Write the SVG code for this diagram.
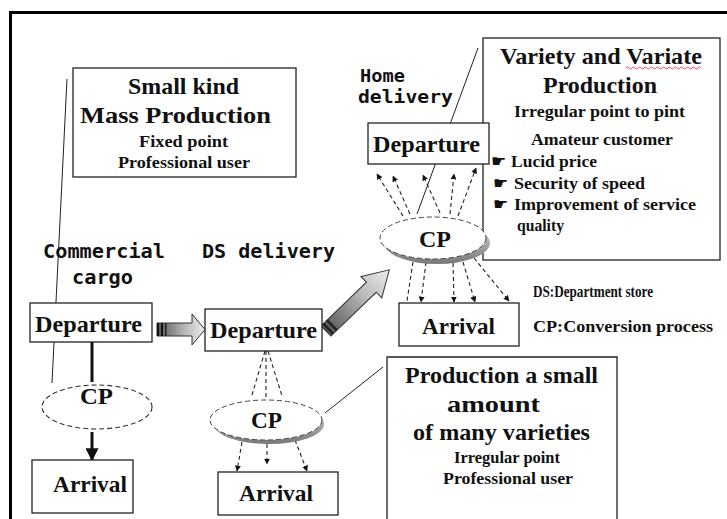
<svg xmlns="http://www.w3.org/2000/svg" width="727" height="519" viewBox="0 0 727 519">
  <defs>
    <style>
      .box { fill: #fff; stroke: #222; stroke-width: 1.3; }
      .t { font-family: "Liberation Serif", "Times New Roman", serif; font-weight: bold; fill: #111; }
      .big { font-size: 23px; }
      .mid { font-size: 24px; }
      .sm { font-size: 16.5px; }
      .goth { font-family: "DejaVu Sans Mono", "Liberation Mono", monospace; font-weight: bold; font-size: 20px; fill: #111; }
      .goth2 { font-family: "DejaVu Sans Mono", "Liberation Mono", monospace; font-weight: bold; font-size: 17px; fill: #111; }
      .hand { font-family: "DejaVu Sans", sans-serif; font-size: 17px; fill: #111; }
      .dash { fill: none; stroke: #222; stroke-width: 1.1; stroke-dasharray: 4 3; }
      .lead { fill: none; stroke: #222; stroke-width: 1; }
    </style>
    <marker id="tri" viewBox="0 0 10 10" refX="9" refY="5" markerWidth="6" markerHeight="6" orient="auto" markerUnits="userSpaceOnUse">
      <path d="M0,0 L10,5 L0,10 z" fill="#111"/>
    </marker>
    <marker id="bigtri" viewBox="0 0 10 10" refX="9" refY="5" markerWidth="13" markerHeight="13" orient="auto" markerUnits="userSpaceOnUse">
      <path d="M0,0 L10,5 L0,10 z" fill="#111"/>
    </marker>
    <linearGradient id="shaft" x1="0" y1="0" x2="1" y2="0">
      <stop offset="0" stop-color="#555"/>
      <stop offset="0.6" stop-color="#bbb"/>
      <stop offset="1" stop-color="#ececec"/>
    </linearGradient>
    <linearGradient id="shade" x1="0" y1="0" x2="0" y2="1">
      <stop offset="0" stop-color="#ddd"/>
      <stop offset="1" stop-color="#777"/>
    </linearGradient>
  </defs>

  <rect width="727" height="519" fill="#fff"/>
  <!-- outer frame -->
  <path d="M10.5,519 V12.5 H727" fill="none" stroke="#000" stroke-width="3"/>

  <!-- connectors -->
  <g id="connectors">
    <!-- callout leaders -->
    <path class="lead" d="M67,79 L52,383"/>
    <path class="lead" d="M478,48 L417,214"/>
    <path class="lead" d="M325,413 L383,367"/>

    <!-- commercial cargo: solid flow -->
    <path d="M92,341 V382" stroke="#111" stroke-width="3"/>
    <path d="M92,432 V460" stroke="#111" stroke-width="3" marker-end="url(#bigtri)"/>

    <!-- DS delivery: fan into and out of CP -->
    <path class="dash" d="M265,351 L252,395"/>
    <path class="dash" d="M266,351 L266,399"/>
    <path class="dash" d="M268,351 L282,396"/>
    <path class="dash" d="M242,442 L237,471" marker-end="url(#tri)"/>
    <path class="dash" d="M267,444 L267,464" marker-end="url(#tri)"/>
    <path class="dash" d="M295,440 L307,471" marker-end="url(#tri)"/>

    <!-- home delivery: fan up to departure -->
    <path class="dash" d="M403,216 L377,174" marker-end="url(#tri)"/>
    <path class="dash" d="M410,214 L393,176" marker-end="url(#tri)"/>
    <path class="dash" d="M440,213 L423,175" marker-end="url(#tri)"/>
    <path class="dash" d="M450,214 L454,174" marker-end="url(#tri)"/>
    <path class="dash" d="M458,216 L476,168" marker-end="url(#tri)"/>

    <!-- home delivery: fan down to arrival -->
    <path class="dash" d="M413,262 L407,301"/>
    <path class="dash" d="M426,262 L421,302" marker-end="url(#tri)"/>
    <path class="dash" d="M453,263 L454,302" marker-end="url(#tri)"/>
    <path class="dash" d="M463,262 L475,302" marker-end="url(#tri)"/>
    <path class="dash" d="M474,258 L509,301" marker-end="url(#tri)"/>

    <!-- block arrow: commercial -> DS -->
    <g id="blockArrow1">
      <path d="M157,323 H192 V314 L205,329.5 L192,345 V336 H157 Z" fill="url(#shaft)" stroke="#333" stroke-width="1"/>
      <rect x="157" y="323" width="2" height="13" fill="#111"/>
      <rect x="161" y="323" width="2" height="13" fill="#111"/>
      <rect x="165" y="323" width="1.5" height="13" fill="#222"/>
    </g>
    <!-- block arrow: DS -> home -->
    <g id="blockArrow2" transform="translate(326,331) rotate(-44)">
      <path d="M0,-7 H63 V-15 L88,0 L63,15 V7 H0 Z" fill="url(#shaft)" stroke="#333" stroke-width="1"/>
      <rect x="2" y="-7" width="2.5" height="14" fill="#222"/>
      <rect x="7" y="-7" width="2.5" height="14" fill="#222"/>
    </g>
  </g>

  <!-- information panels -->
  <g id="massPanel">
    <rect class="box" x="73" y="68" width="223" height="109"/>
    <text class="t big" x="128" y="94" textLength="111" lengthAdjust="spacingAndGlyphs">Small kind</text>
    <text class="t big" x="80" y="123" textLength="191" lengthAdjust="spacingAndGlyphs">Mass Production</text>
    <text class="t sm" x="139" y="147" textLength="89" lengthAdjust="spacingAndGlyphs">Fixed point</text>
    <text class="t sm" x="118" y="168" textLength="132" lengthAdjust="spacingAndGlyphs">Professional user</text>
  </g>

  <g id="varietyPanel">
    <rect class="box" x="483" y="38" width="237" height="222"/>
    <text class="t big" x="500" y="64" textLength="202" lengthAdjust="spacingAndGlyphs">Variety and Variate</text>
    <path d="M626,68 q1.5,-2 3,0 t3,0 t3,0 t3,0 t3,0 t3,0 t3,0 t3,0 t3,0 t3,0 t3,0 t3,0 t3,0 t3,0 t3,0 t3,0 t3,0 t3,0 t3,0 t3,0 t3,0 t3,0 t3,0 t3,0 t3,0" fill="none" stroke="#d22" stroke-width="0.8"/>
    <text class="t big" x="543" y="93" textLength="114" lengthAdjust="spacingAndGlyphs">Production</text>
    <text class="t sm" x="514" y="117" textLength="171" lengthAdjust="spacingAndGlyphs">Irregular point to pint</text>
    <text class="t sm" x="531" y="145" textLength="142" lengthAdjust="spacingAndGlyphs">Amateur customer</text>
    <text class="hand" x="491" y="167">☛</text>
    <text class="t sm" x="511" y="167" textLength="86" lengthAdjust="spacingAndGlyphs">Lucid price</text>
    <text class="hand" x="493" y="189">☛</text>
    <text class="t sm" x="514" y="189" textLength="131" lengthAdjust="spacingAndGlyphs">Security of speed</text>
    <text class="hand" x="493" y="210">☛</text>
    <text class="t sm" x="514" y="210" textLength="182" lengthAdjust="spacingAndGlyphs">Improvement of service</text>
    <text class="t sm" x="517" y="231" textLength="47" lengthAdjust="spacingAndGlyphs">quality</text>
  </g>

  <g id="smallAmountPanel">
    <path class="box" d="M387,520 V357 H617 V520"/>
    <text class="t big" x="405" y="383" textLength="193" lengthAdjust="spacingAndGlyphs">Production a small</text>
    <text class="t big" x="447" y="412" textLength="93" lengthAdjust="spacingAndGlyphs">amount</text>
    <text class="t big" x="413" y="440" textLength="177" lengthAdjust="spacingAndGlyphs">of many  varieties</text>
    <text class="t sm" x="454" y="463" textLength="106" lengthAdjust="spacingAndGlyphs">Irregular point</text>
    <text class="t sm" x="443" y="484" textLength="130" lengthAdjust="spacingAndGlyphs">Professional user</text>
  </g>

  <g id="legend">
    <text class="t sm" x="533" y="297" textLength="120" lengthAdjust="spacingAndGlyphs">DS:Department store</text>
    <text class="t sm" x="533" y="332" textLength="180" lengthAdjust="spacingAndGlyphs">CP:Conversion process</text>
  </g>

  <!-- route headings -->
  <g id="headings">
    <text class="goth" x="43" y="258" textLength="122" lengthAdjust="spacingAndGlyphs">Commercial</text>
    <text class="goth" x="72" y="284" textLength="61" lengthAdjust="spacingAndGlyphs">cargo</text>
    <text class="goth" x="202" y="258" textLength="133" lengthAdjust="spacingAndGlyphs">DS delivery</text>
    <text class="goth2" x="360" y="82" textLength="45" lengthAdjust="spacingAndGlyphs">Home</text>
    <text class="goth2" x="358" y="103" textLength="95" lengthAdjust="spacingAndGlyphs">delivery</text>
  </g>

  <!-- commercial cargo route -->
  <g id="dep1">
    <rect class="box" x="30" y="303" width="122" height="39"/>
    <text class="t mid" x="35" y="332" textLength="107" lengthAdjust="spacingAndGlyphs">Departure</text>
  </g>
  <g id="cp1">
    <ellipse cx="97" cy="407" rx="55" ry="22" fill="#fff" stroke="#333" stroke-width="1.1" stroke-dasharray="5 3"/>
    <text class="t mid" x="80" y="404" textLength="33" lengthAdjust="spacingAndGlyphs">CP</text>
  </g>
  <g id="arr1">
    <rect class="box" x="32" y="460" width="101" height="53"/>
    <text class="t mid" x="53" y="492" textLength="74" lengthAdjust="spacingAndGlyphs">Arrival</text>
  </g>

  <!-- DS delivery route -->
  <g id="dep2">
    <rect class="box" x="205" y="309" width="117" height="42"/>
    <text class="t mid" x="210" y="338" textLength="107" lengthAdjust="spacingAndGlyphs">Departure</text>
  </g>
  <g id="cp2">
    <ellipse cx="269" cy="424" rx="55" ry="20" fill="url(#shade)"/>
    <ellipse cx="266" cy="420" rx="56" ry="20" fill="#fff" stroke="#444" stroke-width="1" stroke-dasharray="5 3"/>
    <text class="t mid" x="251" y="428" textLength="31" lengthAdjust="spacingAndGlyphs">CP</text>
  </g>
  <g id="arr2">
    <rect class="box" x="218" y="472" width="120" height="43"/>
    <text class="t mid" x="239" y="501" textLength="74" lengthAdjust="spacingAndGlyphs">Arrival</text>
  </g>

  <!-- home delivery route -->
  <g id="dep3">
    <rect class="box" x="368" y="123" width="121" height="41"/>
    <text class="t mid" x="373" y="152" textLength="107" lengthAdjust="spacingAndGlyphs">Departure</text>
  </g>
  <g id="cp3">
    <ellipse cx="437" cy="243" rx="53" ry="21" fill="url(#shade)"/>
    <ellipse cx="433" cy="238" rx="53" ry="21" fill="#fff" stroke="#444" stroke-width="1" stroke-dasharray="5 3"/>
    <text class="t mid" x="419" y="247" textLength="32" lengthAdjust="spacingAndGlyphs">CP</text>
  </g>
  <g id="arr3">
    <rect class="box" x="399" y="303" width="120" height="43"/>
    <text class="t mid" x="422" y="334" textLength="73" lengthAdjust="spacingAndGlyphs">Arrival</text>
  </g>
</svg>
